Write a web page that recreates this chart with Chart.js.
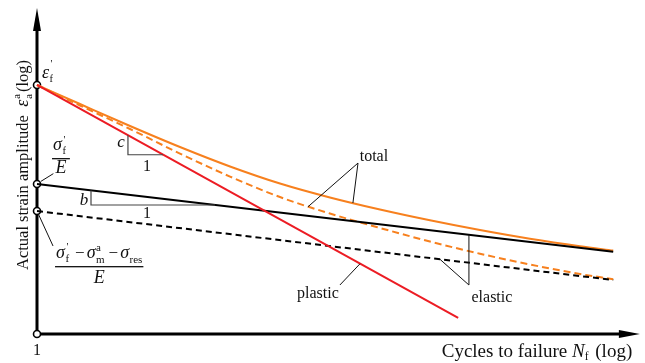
<!DOCTYPE html>
<html><head><meta charset="utf-8">
<script src="https://cdn.jsdelivr.net/npm/chart.js@4/dist/chart.umd.min.js"></script>
<style>html,body{margin:0;padding:0;background:#fff;}canvas{display:block}</style>
</head><body>
<canvas id="c" width="645" height="363"></canvas>
<script>
// x: log10 cycles to failure, y: log strain amplitude (schematic decade units)
const plasticX = [0, 4.89];
const plasticY = [2.891, 0.186];
const elasticX = [0, 6.69];
const elasticY = [1.741, 0.955];
const elasticMeanResY = [1.428, 0.627];
const totalX = [0, 0.499, 1.080, 1.660, 2.241, 2.821, 3.401, 3.982, 4.562, 5.143, 5.723, 6.304, 6.69];
const totalY = [2.891, 2.670, 2.415, 2.171, 1.945, 1.747, 1.585, 1.445, 1.320, 1.207, 1.106, 1.019, 0.969];
const totalMeanResX = [0, 0.499, 1.080, 1.660, 2.241, 2.821, 3.401, 3.982, 4.562, 5.143, 5.723, 6.304, 6.69];
const totalMeanResY = [2.891, 2.653, 2.380, 2.095, 1.828, 1.590, 1.399, 1.231, 1.074, 0.932, 0.807, 0.697, 0.636];
const interceptX = [0, 0, 0, 0];
const interceptY = [0, 1.428, 1.741, 2.891];
const xRange = [0, 7];
const yRange = [0, 3.785];

// annotation anchors (data units)
const notes = {
  cTri: [[1.056, 2.307], [1.056, 2.081], [1.463, 2.081]],
  bTri: [[0.627, 1.667], [0.627, 1.498], [2.068, 1.498]],
  leaders: [
    [[3.727, 1.985], [3.146, 1.477]],
    [[3.727, 1.985], [3.668, 1.521]],
    [[5.015, 0.569], [5.015, 1.152]],
    [[5.015, 0.569], [4.678, 0.868]],
    [[3.517, 0.569], [3.750, 0.815]],
    [[0.045, 1.772], [0.19, 1.862]],
    [[0.015, 1.395], [0.186, 1.022]]
  ]
};

const FONT = '"Liberation Serif","Times New Roman",Times,serif';
const fnt = (s, it) => (it ? 'italic ' : '') + s + 'px ' + FONT;
const pts = (xs, ys) => xs.map((x, i) => ({x, y: ys[i]}));
const RED = '#ec1c24', ORANGE = '#f7801e';

function line(label, xs, ys, color, dash, curved) {
  return {label, data: pts(xs, ys), showLine: true, borderColor: color, backgroundColor: color,
    borderWidth: 2, borderDash: dash || [], pointRadius: 0, pointHoverRadius: 0,
    tension: curved ? 0.4 : 0, cubicInterpolationMode: curved ? 'monotone' : 'default', fill: false, clip: false};
}

function rich(ctx, x, y, parts, dry) {
  let cx = x;
  for (const p of parts) {
    ctx.font = fnt(p.size, p.italic);
    if (p.stack) {
      const w1 = ctx.measureText(p.stack[0]).width + (p.supDx || 0);
      const w2 = ctx.measureText(p.stack[1]).width;
      if (!dry) {
        ctx.fillText(p.stack[0], cx + (p.supDx || 0), y + p.up);
        ctx.fillText(p.stack[1], cx, y + p.down);
      }
      cx += Math.max(w1, w2) + (p.after || 0);
    } else {
      if (!dry) ctx.fillText(p.t, cx + (p.before || 0), y + (p.dy || 0));
      cx += ctx.measureText(p.t).width + (p.before || 0) + (p.after || 0);
    }
  }
  return cx - x;
}

const annot = {
  id: 'annot',
  beforeDatasetsDraw(chart) {
    const {ctx, scales: {x, y}} = chart;
    const x0 = x.getPixelForValue(xRange[0]), y0 = y.getPixelForValue(yRange[0]);
    const xe = x.getPixelForValue(xRange[1]), ye = y.getPixelForValue(yRange[1]);
    ctx.save();
    ctx.strokeStyle = '#000'; ctx.fillStyle = '#000'; ctx.lineWidth = 3;
    ctx.beginPath();
    ctx.moveTo(x0, y0 + 1.5); ctx.lineTo(x0, ye + 18);
    ctx.moveTo(x0 - 1.5, y0); ctx.lineTo(xe - 16, y0);
    ctx.stroke();
    ctx.beginPath(); ctx.moveTo(x0, ye); ctx.lineTo(x0 - 4, ye + 23); ctx.lineTo(x0 + 4, ye + 23); ctx.closePath(); ctx.fill();
    ctx.beginPath(); ctx.moveTo(xe, y0); ctx.lineTo(xe - 21, y0 - 4); ctx.lineTo(xe - 21, y0 + 4); ctx.closePath(); ctx.fill();
    ctx.restore();
  },
  afterDatasetsDraw(chart) {
    const {ctx, scales: {x, y}} = chart;
    const X = v => x.getPixelForValue(v), Y = v => y.getPixelForValue(v);
    ctx.save();
    // slope triangles
    ctx.strokeStyle = '#444'; ctx.lineWidth = 1.2;
    for (const tri of [notes.cTri, notes.bTri]) {
      ctx.beginPath();
      ctx.moveTo(X(tri[0][0]), Y(tri[0][1]));
      ctx.lineTo(X(tri[1][0]), Y(tri[1][1]));
      ctx.lineTo(X(tri[2][0]), Y(tri[2][1]));
      ctx.stroke();
    }
    // leader lines
    ctx.strokeStyle = '#111'; ctx.lineWidth = 1;
    for (const l of notes.leaders) {
      ctx.beginPath(); ctx.moveTo(X(l[0][0]), Y(l[0][1])); ctx.lineTo(X(l[1][0]), Y(l[1][1])); ctx.stroke();
    }
    ctx.fillStyle = '#111';
    ctx.textBaseline = 'alphabetic';
    // simple labels
    ctx.textAlign = 'center';
    ctx.font = fnt(16);
    ctx.fillText('total', X(3.912), Y(2.008));
    ctx.fillText('elastic', X(5.282), Y(0.371));
    ctx.fillText('plastic', X(3.262), Y(0.418));
    ctx.fillText('1', X(1.277), Y(1.892));
    ctx.fillText('1', X(1.277), Y(1.347));
    ctx.fillText('1', X(0), Y(-0.244));
    ctx.font = fnt(17, true);
    ctx.fillText('c', X(0.975), Y(2.171));
    ctx.fillText('b', X(0.546), Y(1.498));
    ctx.textAlign = 'left';

    // x title
    const xt = [{t: 'Cycles to failure ', size: 19}, {t: 'N', size: 19, italic: true}, {t: 'f', size: 11.5, dy: 3, after: 2}, {t: ' (log)', size: 19}];
    const wx = rich(ctx, 0, 0, xt, true);
    rich(ctx, X(5.805) - wx / 2, Y(-0.267), xt);

    // y title (rotated)
    const yt = [{t: 'Actual strain amplitude  ', size: 16.5}, {t: 'ε', size: 18, italic: true, after: 1},
      {stack: ['a', 'a'], size: 10.5, up: -8, down: 4, after: 2}, {t: '(log)', size: 16.5}];
    const wy = rich(ctx, 0, 0, yt, true);
    ctx.save();
    ctx.translate(X(-0.104), Y(1.962));
    ctx.rotate(-Math.PI / 2);
    rich(ctx, -wy / 2, 0, yt);
    ctx.restore();

    // epsilon_f'
    rich(ctx, X(0.058), Y(2.972), [{t: 'ε', size: 18, italic: true, after: 0.5}, {stack: ["'", 'f'], size: 10.5, up: -11, down: 4, supDx: 1}]);

    // sigma_f' / E
    const sx = X(0.186), sy = Y(2.136);
    const num1 = [{t: 'σ', size: 18, italic: true, after: 0.5}, {stack: ["'", 'f'], size: 10.5, up: -7, down: 4, supDx: 1}];
    const w1 = rich(ctx, sx, sy, num1) + 3;
    ctx.fillRect(sx - 1, sy + 8, w1 + 2, 1.3);
    ctx.font = fnt(18, true); ctx.textAlign = 'center';
    ctx.fillText('E', sx + w1 / 2, sy + 23);
    ctx.textAlign = 'left';

    // (sigma_f' - sigma_m^a - sigma_res) / E
    const lx = X(0.221), ly = Y(0.882);
    const num2 = [
      {t: 'σ', size: 18, italic: true, after: 0.5}, {stack: ["'", 'f'], size: 11, up: -8, down: 4, supDx: 1},
      {t: '−', size: 17, before: 6, after: 2},
      {t: 'σ', size: 18, italic: true, after: 0.5}, {stack: ['a', 'm'], size: 11, up: -7, down: 5},
      {t: '−', size: 17, before: 4, after: 2},
      {t: 'σ', size: 18, italic: true, after: 0.5}, {t: 'res', size: 11, dy: 5}
    ];
    const w2 = rich(ctx, lx, ly, num2);
    ctx.fillRect(lx - 1, ly + 8, w2 + 2, 1.3);
    ctx.font = fnt(18, true); ctx.textAlign = 'center';
    ctx.fillText('E', lx + w2 / 2, ly + 25);
    ctx.restore();
  }
};

new Chart(document.getElementById('c'), {
  type: 'scatter',
  data: {
    datasets: [
      line('plastic', plasticX, plasticY, RED),
      line('elastic', elasticX, elasticY, '#000'),
      line('elastic (mean & residual stress)', elasticX, elasticMeanResY, '#000', [6, 4]),
      line('total', totalX, totalY, ORANGE, null, true),
      line('total (mean & residual stress)', totalMeanResX, totalMeanResY, ORANGE, [7, 4], true),
      {label: 'intercepts', data: pts(interceptX, interceptY), showLine: false, pointRadius: 3.5,
        pointBackgroundColor: '#fff', pointBorderColor: '#000', pointBorderWidth: 1.6, pointHoverRadius: 3.5, clip: false}
    ]
  },
  options: {
    responsive: false, animation: false, devicePixelRatio: 1,
    layout: {padding: {left: 37, top: 8, right: 5, bottom: 29}},
    plugins: {legend: {display: false}, tooltip: {enabled: false}},
    scales: {
      x: {type: 'linear', min: xRange[0], max: xRange[1], display: false},
      y: {type: 'linear', min: yRange[0], max: yRange[1], display: false}
    },
    events: []
  },
  plugins: [annot]
});
</script>
</body></html>
